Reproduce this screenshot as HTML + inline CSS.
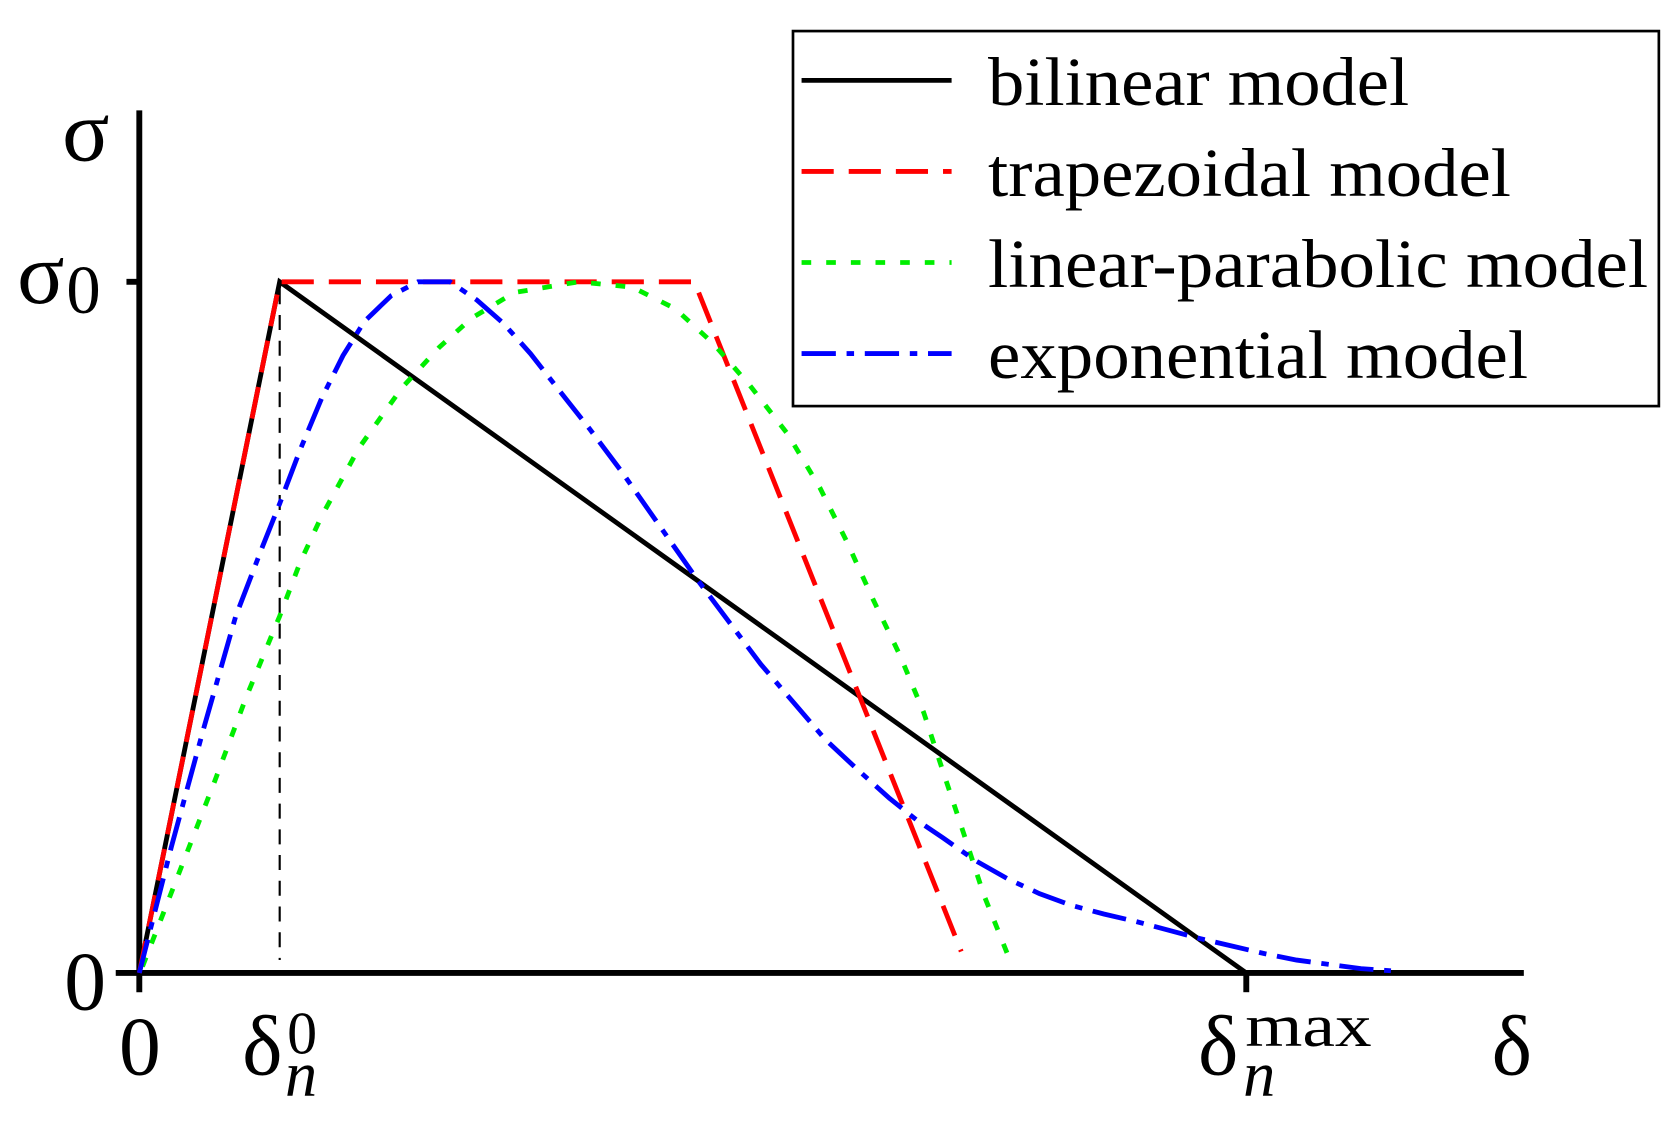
<!DOCTYPE html>
<html><head><meta charset="utf-8"><style>
html,body{margin:0;padding:0;background:#fff;}
svg{display:block;}
text{font-family:"Liberation Serif","DejaVu Serif",serif;fill:#000;}
</style></head><body>
<svg width="1676" height="1124" viewBox="0 0 1564 1049" xmlns="http://www.w3.org/2000/svg" preserveAspectRatio="none">
<rect width="1564" height="1049" fill="#fff"/>
<line x1="130" y1="103" x2="130" y2="926" stroke="#000" stroke-width="5.5"/>
<line x1="108" y1="908" x2="1422" y2="908" stroke="#000" stroke-width="5.5"/>
<line x1="118" y1="263" x2="130" y2="263" stroke="#000" stroke-width="5.5"/>
<line x1="1163" y1="908" x2="1163" y2="926" stroke="#000" stroke-width="5.5"/>
<line x1="261" y1="270" x2="261" y2="896" stroke="#000" stroke-width="2" stroke-dasharray="14,10"/>
<polyline fill="none" stroke="#000" stroke-width="4.5" points="130,908 261,263 1163,908"/>
<polyline fill="none" stroke="#ff0000" stroke-width="4.5" stroke-dasharray="30,14" points="130,908 261,263 648,263 897,888"/>
<polyline fill="none" stroke="#00ee00" stroke-width="4.5" stroke-dasharray="9,14" points="133,902 165,820 200,730 230,650 261,575 280,525 300,482 335,418 375,362 410,324 440,297 480,273 540,263 590,268 630,288 665,320 700,360 735,405 765,455 790,505 815,560 840,612 862,665 880,720 900,780 918,835 932,870 942,895"/>
<polyline fill="none" stroke="#0000ff" stroke-width="4.5" stroke-dasharray="32,10,7,10" points="130,908 160,790 190,680 220,575 245,510 261,470 280,420 300,372 320,332 340,300 365,276 390,263 420,263 445,280 470,302 495,330 520,362 550,400 580,440 615,490 650,540 680,580 710,620 740,655 770,690 800,718 830,745 855,765 880,782 910,803 940,820 970,834 1000,845 1030,853 1060,860 1090,868 1120,876 1150,883 1180,890 1210,896 1240,900 1270,904 1298,906"/>
<text x="58" y="150" font-size="82">σ</text>
<text x="16" y="283" font-size="82">σ</text>
<text x="62" y="292" font-size="64">0</text>
<text x="60" y="942" font-size="78">0</text>
<text x="111" y="1003" font-size="78">0</text>
<text x="226" y="1003" font-size="80">δ</text>
<text x="268" y="983" font-size="56">0</text>
<text x="266" y="1023" font-size="60" font-style="italic">n</text>
<text x="1118" y="1003" font-size="80">δ</text>
<text x="1162" y="976" font-size="56" textLength="118" lengthAdjust="spacingAndGlyphs">max</text>
<text x="1160" y="1023" font-size="60" font-style="italic">n</text>
<text x="1392" y="1003" font-size="80">δ</text>
<rect x="740" y="29" width="808" height="350" fill="#fff" stroke="#000" stroke-width="2.5"/>
<line x1="748" y1="75" x2="888" y2="75" stroke="#000" stroke-width="4.5"/>
<line x1="748" y1="160" x2="888" y2="160" stroke="#ff0000" stroke-width="4.5" stroke-dasharray="30,14"/>
<line x1="748" y1="245" x2="888" y2="245" stroke="#00ee00" stroke-width="4.5" stroke-dasharray="9,14"/>
<line x1="748" y1="330" x2="888" y2="330" stroke="#0000ff" stroke-width="4.5" stroke-dasharray="32,10,7,10"/>
<text x="922" y="98" font-size="64" textLength="393" lengthAdjust="spacingAndGlyphs">bilinear model</text>
<text x="922" y="183" font-size="64" textLength="488" lengthAdjust="spacingAndGlyphs">trapezoidal model</text>
<text x="922" y="268" font-size="64" textLength="616" lengthAdjust="spacingAndGlyphs">linear-parabolic model</text>
<text x="922" y="353" font-size="64" textLength="504" lengthAdjust="spacingAndGlyphs">exponential model</text>
</svg>
</body></html>
